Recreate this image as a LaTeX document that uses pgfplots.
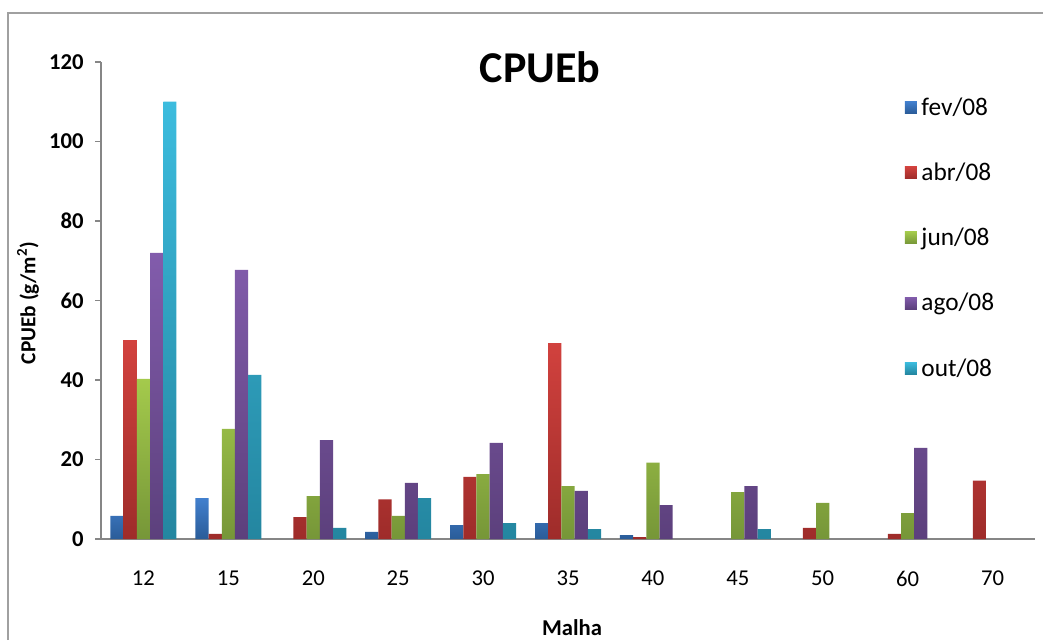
\documentclass[border=0pt]{standalone}
\usepackage{pgfplots}
\pgfplotsset{compat=1.18}
\usepackage{fontspec}
\setmainfont{Carlito}

% series colours (top / bottom of the gradient)
\definecolor{fevT}{RGB}{66,128,206}
\definecolor{fevB}{RGB}{42,92,152}
\definecolor{abrT}{RGB}{210,66,62}
\definecolor{abrB}{RGB}{158,44,42}
\definecolor{junT}{RGB}{164,202,76}
\definecolor{junB}{RGB}{118,150,56}
\definecolor{agoT}{RGB}{130,92,172}
\definecolor{agoB}{RGB}{92,64,124}
\definecolor{outT}{RGB}{60,188,222}
\definecolor{outB}{RGB}{36,134,160}
\definecolor{framegray}{RGB}{160,160,160}
\definecolor{axisgray}{RGB}{134,134,134}

\begin{document}
\begin{tikzpicture}[x=0.75pt,y=0.75pt]
\useasboundingbox (0,0) rectangle (1043,640);
% outer chart frame
\draw[framegray,line width=1.1pt] (8,0) -- (8,627) -- (1043,627);

\begin{axis}[
  at={(75.75pt,75.75pt)}, anchor=south west,
  scale only axis,
  width=700.5pt, height=357.75pt,
  xmin=-0.5, xmax=10.5,
  ymin=0, ymax=120,
  ytick={0,20,...,120},
  xtick={0,...,10},
  xticklabels={12,15,20,25,30,35,40,45,50,60,70},
  axis x line*=bottom,
  axis y line*=left,
  axis line style={axisgray,line width=0.9pt,-},
  x tick style={draw=none},
  y tick style={axisgray,line width=0.8pt},
  tick align=outside,
  major tick length=4.5pt,
  /pgf/number format/assume math mode=true,
  xticklabel style={font=\fontsize{17}{20}\selectfont, yshift=-16pt},
  yticklabel style={font=\bfseries\fontsize{17}{20}\selectfont, xshift=-5pt},
  ybar=0pt,
  bar width=9.9pt,
  legend style={
    at={(0.856,0.937)}, anchor=north west,
    draw=none, fill=none,
    font=\fontsize{19}{22}\selectfont,
    row sep=30.2pt,
    /tikz/every even column/.append style={column sep=2pt},
    /tikz/every odd column/.append style={column sep=1.5pt},
  },
  legend cell align=left,
  legend image code/.code={\fill[#1] (0pt,-4.5pt) rectangle (9pt,4.5pt);},
]
\addplot[draw=none, top color=fevT, bottom color=fevB, bar shift=-19.8pt]
  coordinates {(0,5.8) (1,10.3) (3,1.8) (4,3.5) (5,4.0) (6,1.0)};
\addplot[draw=none, top color=abrT, bottom color=abrB, bar shift=-9.9pt]
  coordinates {(0,50) (1,1.3) (2,5.5) (3,10) (4,15.6) (5,49.3) (6,0.5) (8,2.8) (9,1.3) (10,14.7)};
\addplot[draw=none, top color=junT, bottom color=junB, bar shift=0pt]
  coordinates {(0,40.3) (1,27.7) (2,10.8) (3,5.8) (4,16.3) (5,13.3) (6,19.2) (7,11.8) (8,9.1) (9,6.5)};
\addplot[draw=none, top color=agoT, bottom color=agoB, bar shift=9.9pt]
  coordinates {(0,72) (1,67.7) (2,24.9) (3,14.1) (4,24.2) (5,12.1) (6,8.5) (7,13.3) (9,22.9)};
\addplot[draw=none, top color=outT, bottom color=outB, bar shift=19.8pt]
  coordinates {(0,110) (1,41.3) (2,2.8) (3,10.3) (4,4.0) (5,2.5) (7,2.5)};
\legend{fev/08,abr/08,jun/08,ago/08,out/08}
\end{axis}

% titles
\node[font=\bfseries\fontsize{33}{38}\selectfont] at (540,573) {CPUEb};
\node[font=\bfseries\fontsize{17}{20}\selectfont] at (572,12) {Malha};
\node[font=\bfseries\fontsize{16}{19}\selectfont, rotate=90] at (28,337) {CPUEb (g/m\textsuperscript{2})};
\end{tikzpicture}
\end{document}
